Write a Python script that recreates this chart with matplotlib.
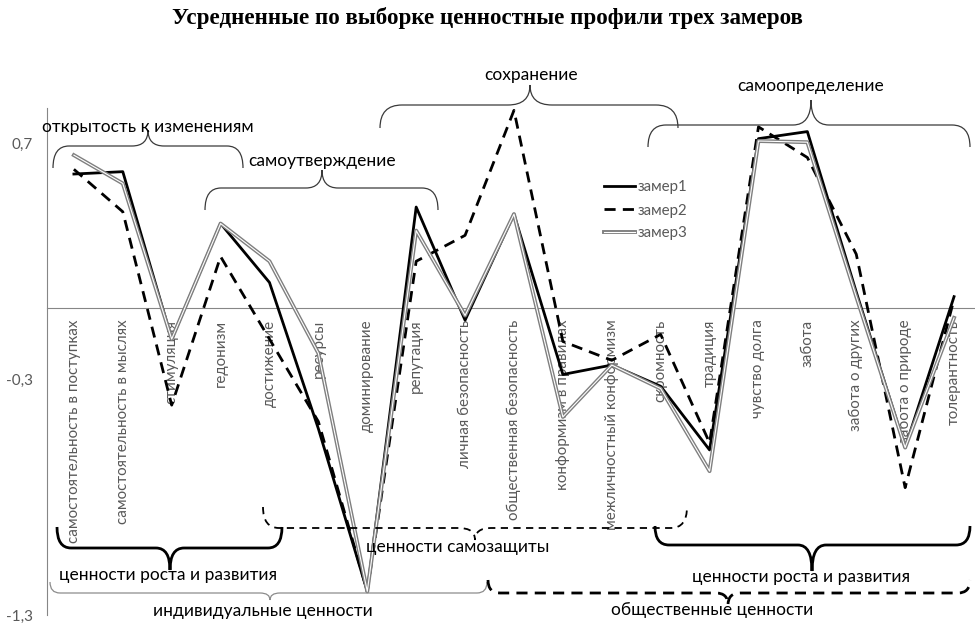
import matplotlib
matplotlib.use("Agg")
import matplotlib.pyplot as plt
from matplotlib.path import Path
from matplotlib.patches import PathPatch
import matplotlib.patheffects as pe
from matplotlib.ticker import FixedLocator, FuncFormatter

# ---------------- data ----------------
categories = ['самостоятельность в поступках', 'самостоятельность в мыслях', 'стимуляция',
              'гедонизм', 'достижение', 'ресурсы', 'доминирование', 'репутация',
              'личная безопасность', 'общественная безопасность', 'конформизм в правилах',
              'межличностный конформизм', 'скромность', 'традиция', 'чувство долга',
              'забота', 'забота о других', 'забота о природе', 'толерантность']
zamer1 = [0.57, 0.58, -0.13, 0.36, 0.11, -0.51, -1.20, 0.43, -0.05, 0.40,
          -0.28, -0.24, -0.33, -0.60, 0.72, 0.75, 0.07, -0.59, 0.05]
zamer2 = [0.59, 0.41, -0.41, 0.22, -0.13, -0.48, -1.20, 0.20, 0.31, 0.84,
          -0.14, -0.22, -0.11, -0.57, 0.77, 0.64, 0.23, -0.76, 0.04]
zamer3 = [0.65, 0.53, -0.13, 0.36, 0.20, -0.19, -1.20, 0.33, -0.03, 0.40,
          -0.46, -0.24, -0.34, -0.69, 0.71, 0.705, 0.05, -0.59, -0.04]
series_names = ['замер1', 'замер2', 'замер3']
y_ticks = [-1.3, -0.3, 0.7]
title = 'Усредненные по выборке ценностные профили трех замеров'

# ---------------- figure ----------------
W, H = 975, 623
fig = plt.figure(figsize=(W / 100, H / 100), dpi=100)
plt.rcParams['font.family'] = ['Lato', 'DejaVu Sans']

gray = '#595959'
ax = fig.add_axes([47 / W, 8 / H, 931.5 / W, 507 / H])
x = list(range(len(categories)))

ax.plot(x, zamer1, color='black', lw=2.0, label=series_names[0], zorder=3)
ax.plot(x, zamer2, color='black', lw=2.0, ls=(0, (4, 2.6)), label=series_names[1], zorder=3)
ax.plot(x, zamer3, color='white', lw=0.8, label=series_names[2], zorder=4,
        path_effects=[pe.Stroke(linewidth=2.8, foreground='#7f7f7f'), pe.Normal()])

ax.set_xlim(-0.55, 18.5)
ax.set_ylim(-1.3, 0.85)
ax.spines['top'].set_visible(False)
ax.spines['right'].set_visible(False)
ax.spines['left'].set_color('#868686')
ax.spines['bottom'].set_color('#868686')
ax.spines['bottom'].set_position(('data', 0))
ax.set_xticks(x)
ax.set_xticklabels(categories, rotation=90, ha='center', va='top', color=gray, fontsize=10.9)
ax.tick_params(axis='x', length=0, pad=8)
ax.yaxis.set_major_locator(FixedLocator(y_ticks))
ax.yaxis.set_major_formatter(FuncFormatter(lambda v, p: f'{v:.1f}'.replace('.', ',')))
ax.tick_params(axis='y', length=0, pad=10, labelsize=11, labelcolor=gray)
ax.patch.set_alpha(0)

leg = ax.legend(loc='upper left', bbox_to_anchor=(596 / W, 1 - 173 / H),
                bbox_transform=fig.transFigure, frameon=False, fontsize=10.8,
                handlelength=2.1, handletextpad=0.15, labelspacing=0.6, borderpad=0)
for t in leg.get_texts():
    t.set_color(gray)

fig.text(0.5, 1 - 18 / H, title, ha='center', va='center',
         family='Liberation Serif', weight='bold', fontsize=16.6)

# ---------------- overlay for braces (pixel coords) ----------------
ov = fig.add_axes([0, 0, 1, 1], zorder=5)
ov.set_xlim(0, W)
ov.set_ylim(H, 0)
ov.axis('off')
ov.patch.set_alpha(0)


def brace(x0, x1, xm, yf, ye, yt, r, **kw):
    verts = [(x0, ye), (x0, yf), (x0 + r, yf), (xm - r, yf), (xm, yf), (xm, yt),
             (xm, yf), (xm + r, yf), (x1 - r, yf), (x1, yf), (x1, ye)]
    codes = [Path.MOVETO, Path.CURVE3, Path.CURVE3, Path.LINETO, Path.CURVE3, Path.CURVE3,
             Path.CURVE3, Path.CURVE3, Path.LINETO, Path.CURVE3, Path.CURVE3]
    ov.add_patch(PathPatch(Path(verts, codes), fill=False, capstyle='butt', **kw))


thin = dict(color='#3a3a3a', lw=0.9)
thick = dict(color='black', lw=2.0)
# top braces
brace(53, 243, 148, 146, 168, 130, 16, **thin)
brace(205, 438, 322, 188, 210, 170, 16, **thin)
brace(380, 678, 530, 105, 128, 85, 22, **thin)
brace(648, 970, 811, 125, 147, 100, 18, **thin)
# bottom braces
brace(57, 282, 170, 548, 527, 570, 14, **thick)
brace(263, 687, 475, 528, 507, 540, 16, color='black', lw=1.3, ls=(0, (4, 3)))
brace(50, 487, 270, 593, 582, 600, 10, color='#8c8c8c', lw=0.9)
brace(655, 970, 812, 545, 526, 571, 14, **thick)
brace(488, 970, 728, 593, 580, 605, 12, color='black', lw=2.0, ls=(0, (4, 2.6)))

tf = dict(ha='center', va='center', color='black', fontsize=12.5)
ov.text(148, 127, 'открытость к изменениям', **tf)
ov.text(322, 161, 'самоутверждение', **tf)
ov.text(531, 75, 'сохранение', **tf)
ov.text(811, 86, 'самоопределение', **tf)
ov.text(168, 575, 'ценности роста и развития', **tf)
ov.text(458, 547, 'ценности самозащиты', **tf)
ov.text(263, 611, 'индивидуальные ценности', **tf)
ov.text(801, 577, 'ценности роста и развития', **tf)
ov.text(712, 610, 'общественные ценности', **tf)

fig.savefig('out.png', dpi=100)
